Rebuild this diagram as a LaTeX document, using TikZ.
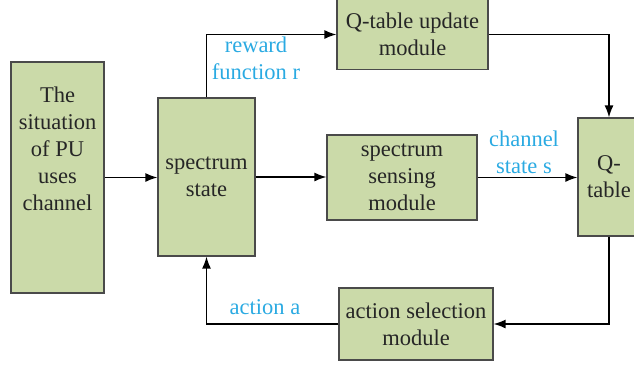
\documentclass[tikz,border=0pt]{standalone}
\usepackage{fontspec}
\setmainfont{Liberation Serif}
\newfontfamily\boxfont{Liberation Serif}
\usetikzlibrary{arrows.meta,positioning}

\definecolor{boxgreen}{HTML}{CBDAA9}
\definecolor{boxline}{HTML}{4A4A4A}
\definecolor{lblue}{HTML}{2AAAE2}

\begin{document}
\begin{tikzpicture}[x=1pt,y=-1pt,
    box/.style={draw=boxline,fill=boxgreen,line width=1.2pt,align=center,
      inner sep=0pt,font=\boxfont\fontsize{22.5}{27}\selectfont,text=black!85},
    lbl/.style={align=center,text=lblue,font=\boxfont\fontsize{22.5}{27}\selectfont},
    link/.style={line width=1.4pt,-{Latex[length=12pt,width=9pt]}}]
  \useasboundingbox (0,0) rectangle (634,368);

  % blocks
  \node[box,minimum width=93,minimum height=231] (pu) at (57.5,177.5) {};
  \node[box,draw=none,fill=none,below=25pt of pu.north] (putxt)
    {The\\situation\\of PU\\uses\\channel};
  \node[box,minimum width=97,minimum height=158] (state) at (206.5,177) {spectrum\\state};
  \node[box,minimum width=151,minimum height=70] (update) at (412.5,34.5) {Q-table update\\module};
  \node[box,minimum width=150,minimum height=85] (sense) at (402,177.5) {spectrum\\sensing\\module};
  \node[box,minimum width=62,minimum height=118] (qtab) at (609,177) {Q-\\table};
  \node[box,minimum width=154,minimum height=72] (act) at (416,324) {action selection\\module};

  % connectors
  \draw[link] (pu.east) -- (pu.east -| state.west);
  \draw[link] (state.east) -- (state.east -| sense.west);
  \draw[link] (sense.east) -- (sense.east -| qtab.west);
  \draw[link] (state.north) |- (update.west);
  \draw[link] (update.east) -| (qtab.north);
  \draw[link] (qtab.south) |- (act.east);
  \draw[link] (act.west) -| (state.south);

  % labels
  \node[lbl] (rew) at (256,58) {reward\\function r};
  \node[lbl] (chs) at (524,152) {channel\\state s};
  \node[lbl] (acta) at (265,307) {action a};
\end{tikzpicture}
\end{document}
